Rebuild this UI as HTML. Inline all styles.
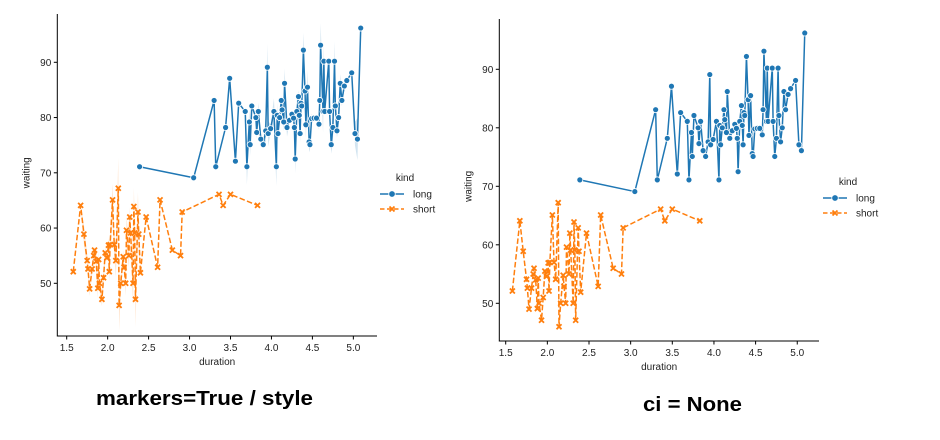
<!DOCTYPE html>
<html><head><meta charset="utf-8"><style>
body{margin:0;background:#fff;width:940px;height:440px;overflow:hidden}
svg{display:block;font-family:"Liberation Sans","DejaVu Sans",sans-serif}
</style></head><body>
<svg id="root" width="940" height="440" viewBox="0 0 940 440"></svg>
<script>
const longDur=[2.39,3.05,3.30,3.32,3.44,3.49,3.56,3.60,3.68,3.70,3.73,3.74,3.76,3.81,3.82,3.84,3.87,3.90,3.93,3.95,3.96,3.99,4.03,4.06,4.07,4.08,4.10,4.12,4.13,4.15,4.16,4.19,4.22,4.25,4.27,4.28,4.29,4.31,4.33,4.34,4.35,4.36,4.37,4.39,4.41,4.42,4.44,4.46,4.47,4.49,4.52,4.55,4.58,4.59,4.60,4.63,4.64,4.65,4.70,4.71,4.73,4.75,4.77,4.78,4.80,4.82,4.84,4.86,4.89,4.92,4.98,5.02,5.05,5.09];
const longWait=[71.1,69.1,83.1,71.1,78.2,87.1,72.1,82.6,81.1,71.1,79.2,75.1,82.1,80.0,77.3,81.1,76.1,75.1,77.6,89.1,77.1,78.0,81.1,71.1,80.4,77.1,80.0,83.1,81.4,79.2,86.2,78.2,79.5,80.6,79.9,78.2,72.5,81.1,83.8,80.4,77.1,82.6,82.1,92.2,84.8,78.7,85.5,75.6,75.1,79.8,79.9,79.9,78.8,83.1,93.1,81.1,90.2,81.1,90.2,81.1,75.1,78.2,90.2,82.1,77.6,80.0,86.2,83.1,85.7,86.7,88.1,77.1,76.1,96.2];
const shortDur=[1.58,1.67,1.71,1.75,1.76,1.78,1.81,1.83,1.84,1.86,1.88,1.89,1.90,1.93,1.95,1.97,1.99,2.01,2.02,2.03,2.06,2.08,2.10,2.13,2.14,2.16,2.19,2.20,2.22,2.23,2.26,2.27,2.28,2.31,2.32,2.33,2.34,2.37,2.38,2.40,2.47,2.61,2.64,2.79,2.89,2.91,3.36,3.41,3.50,3.83];
const shortWait=[52.1,64.1,58.9,54.1,52.6,49.0,52.6,55.0,56.0,54.0,49.1,54.3,50.0,47.1,51.0,55.5,54.6,56.9,52.1,57.0,65.1,57.0,54.1,67.2,46.0,50.0,54.8,52.9,50.0,59.6,55.0,62.0,59.1,50.0,63.9,59.1,47.1,62.9,58.9,51.9,62.0,52.9,65.1,56.0,55.0,62.9,66.1,64.1,66.1,64.1];
const xTicks=[1.5,2.0,2.5,3.0,3.5,4.0,4.5,5.0];
const yTicks=[50,60,70,80,90];

const NS="http://www.w3.org/2000/svg";
const root=document.getElementById('root');
function mk(tag,attrs,parent){const e=document.createElementNS(NS,tag);for(const k in attrs)e.setAttribute(k,attrs[k]);(parent||root).appendChild(e);return e;}
const BLUE="#1f77b4",ORANGE="#ff7f0e";

function chart(cfg){
  const g=mk('g',{});
  
  
  const X=v=>cfg.x0+(v-1.5)*cfg.kx, Y=v=>cfg.y0-(v-50)*cfg.ky;
  if(cfg.band){
    [[shortDur,shortWait,ORANGE],[longDur,longWait,BLUE]].forEach(([xs,ys,c],si)=>{
      const up=[],dn=[];
      for(let i=0;i<xs.length;i++){
        const a=i>0?Math.abs(ys[i]-ys[i-1]):0,b=i<xs.length-1?Math.abs(ys[i+1]-ys[i]):0;
        const dense=(i>0&&xs[i]-xs[i-1]<0.045)&&(i<xs.length-1&&xs[i+1]-xs[i]<0.045);
        const h=dense?Math.min(5.5,(a+b)*0.18):0;
        up.push(X(xs[i])+','+Y(ys[i]+h));dn.unshift(X(xs[i])+','+Y(ys[i]-h));
      }
      const p=mk('polygon',{points:up.concat(dn).join(' '),fill:c,opacity:0.2,stroke:'none'},g);
      
      
    });
  }
  const lp=longDur.map((d,i)=>X(d)+','+Y(longWait[i])).join(' ');
  const l1=mk('polyline',{points:lp,fill:'none',stroke:BLUE,'stroke-width':1.5,'stroke-linejoin':'round'},g);
  
  
  const sp=shortDur.map((d,i)=>X(d)+','+Y(shortWait[i])).join(' ');
  const l2=mk('polyline',{points:sp,fill:'none',stroke:ORANGE,'stroke-width':1.5,'stroke-dasharray':'5.5,2.4'},g);
  
  
  longDur.forEach((d,i)=>{
    const c=mk('circle',{cx:X(d),cy:Y(longWait[i]),r:3,fill:BLUE,stroke:'#fff','stroke-width':0.8},g);
    
    
  });
  shortDur.forEach((d,i)=>{
    const cx=X(d),cy=Y(shortWait[i]);
    const m=mk('path',{d:`M${cx-2.5},${cy-2.5}L${cx+2.5},${cy+2.5}M${cx+2.5},${cy-2.5}L${cx-2.5},${cy+2.5}`,stroke:ORANGE,'stroke-width':1.8,fill:'none'},g);
    
    
  });
  const ax=mk('path',{d:`M${cfg.left},${cfg.top}V${cfg.bottom}H${cfg.right}`,stroke:'#000','stroke-width':1,fill:'none'},g);
  
  
  xTicks.forEach(t=>{
    mk('line',{x1:X(t),x2:X(t),y1:cfg.bottom,y2:cfg.bottom+3.5,stroke:'#000'},g);
    const tx=mk('text',{x:X(t),y:cfg.bottom+15,'font-size':10,'text-anchor':'middle',fill:'#222'},g);
    tx.textContent=t.toFixed(1);
    
    
  });
  yTicks.forEach(t=>{
    mk('line',{x1:cfg.left-3.5,x2:cfg.left,y1:Y(t),y2:Y(t),stroke:'#000'},g);
    const tx=mk('text',{x:cfg.left-6,y:Y(t)+3.5,'font-size':10,'text-anchor':'end',fill:'#222'},g);
    tx.textContent=t;
    
    
  });
  const xl=mk('text',{x:(cfg.left+cfg.right)/2,y:cfg.bottom+29,'font-size':10,'text-anchor':'middle',fill:'#222'},g);
  xl.textContent='duration';
  
  
  const yx=cfg.left-28,yy=Y(70);
  const yl=mk('text',{x:yx,y:yy,'font-size':10,'text-anchor':'middle',fill:'#222',transform:`rotate(-90 ${yx} ${yy})`},g);
  yl.textContent='waiting';
  
  
  const L=cfg.legend;
  const lg=mk('g',{},g);
  
  
  const kt=mk('text',{x:L.x+25,y:L.y,'font-size':10,'text-anchor':'middle',fill:'#222'},lg);
  kt.textContent='kind';
  [['long',BLUE,null],['short',ORANGE,'5.5,2.4']].forEach(([nm,c,da],i)=>{
    const ey=L.y+13+i*15;
    const e=mk('g',{},lg);
    
    
    const ln=mk('line',{x1:L.x,x2:L.x+24,y1:ey,y2:ey,stroke:c,'stroke-width':1.5},e);
    if(da)ln.setAttribute('stroke-dasharray','4.5,2.5');
    if(i==0)mk('circle',{cx:L.x+12,cy:ey,r:3.3,fill:c,stroke:'#fff','stroke-width':0.8},e);
    else mk('path',{d:`M${L.x+9.5},${ey-2.5}L${L.x+14.5},${ey+2.5}M${L.x+14.5},${ey-2.5}L${L.x+9.5},${ey+2.5}`,stroke:c,'stroke-width':1.8},e);
    const t=mk('text',{x:L.x+33,y:ey+3.5,'font-size':10,fill:'#222'},e);
    t.textContent=nm;
  });
  const tt=mk('text',{x:cfg.title.x,y:cfg.title.y,'font-size':20,'font-weight':'bold',fill:'#000',textLength:cfg.title.w,lengthAdjust:'spacingAndGlyphs'},g);
  tt.textContent=cfg.title.text;
  
  
}
chart({name:'left-chart-markers-style',x0:66.7,kx:81.9,y0:283.3,ky:5.525,left:57.3,top:14,bottom:336,right:377,band:true,
  legend:{x:380,y:181},title:{text:'markers=True / style',x:96,y:405,w:217}});
chart({name:'right-chart-ci-none',x0:505.7,kx:83.3,y0:303.3,ky:5.85,left:499.3,top:19,bottom:341,right:819,band:false,
  legend:{x:823,y:185},title:{text:'ci = None',x:643,y:411,w:99}});
</script>
</body></html>
